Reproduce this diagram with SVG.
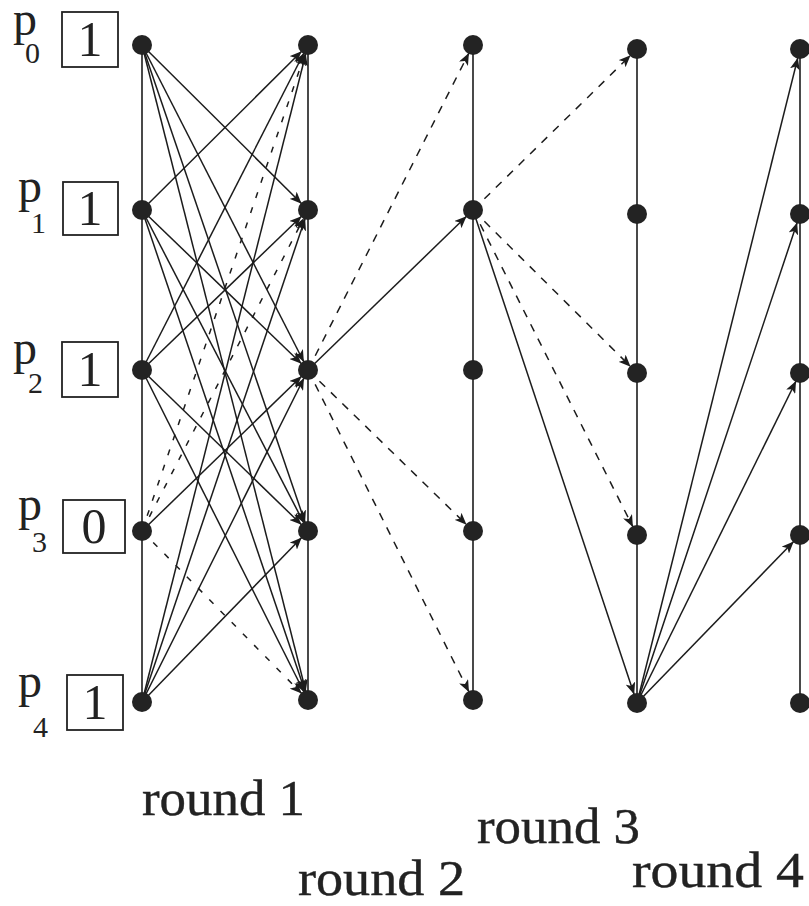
<svg xmlns="http://www.w3.org/2000/svg" width="809" height="906" viewBox="0 0 809 906">
  <style>
    .edge { stroke: #1c1c1c; stroke-width: 1.5; fill: none; marker-end: url(#arrow); }
    .dash { stroke-dasharray: 8 8; }
    .dash1 { stroke-dasharray: 6 10; }
    .life { stroke: #1c1c1c; stroke-width: 1.6; }
    .dot { fill: #232323; }
    .box { fill: none; stroke: #222; stroke-width: 1.8; }
    .pl { font-family: "Liberation Serif", "Times New Roman", serif; font-size: 48px; fill: #222; }
    .sub { font-size: 30px; }
    .val { font-family: "Liberation Serif", "Times New Roman", serif; font-size: 50px; fill: #222; text-anchor: middle; }
    .round { font-family: "Liberation Serif", "Times New Roman", serif; font-size: 50px; fill: #222; stroke: #222; stroke-width: 0.4; }
  </style>
  <defs>
    <!-- arrowhead whose tip stops at the rim of a radius-10 dot -->
    <marker id="arrow" markerUnits="userSpaceOnUse" viewBox="0 0 22 10" markerWidth="22" markerHeight="10" refX="21" refY="5" orient="auto">
      <path d="M0,0 L12,5 L0,10 L3,5 z" fill="#1c1c1c"/>
    </marker>
  </defs>
  <rect width="809" height="906" fill="#ffffff"/>

  <!-- process time lines, one per column -->
  <g id="lifelines">
    <line class="life" x1="142" y1="45" x2="142" y2="702"/>
    <line class="life" x1="308" y1="45" x2="308" y2="700"/>
    <line class="life" x1="473" y1="45" x2="473" y2="700"/>
    <line class="life" x1="637" y1="49" x2="637" y2="703"/>
    <line class="life" x1="800" y1="49" x2="800" y2="703"/>
  </g>

  <g id="connectors">
    <!-- round 1 -->
    <line class="edge" x1="142" y1="45" x2="308" y2="210"/>
    <line class="edge" x1="142" y1="45" x2="308" y2="370"/>
    <line class="edge" x1="142" y1="45" x2="308" y2="531"/>
    <line class="edge" x1="142" y1="45" x2="308" y2="700"/>
    <line class="edge" x1="142" y1="210" x2="308" y2="45"/>
    <line class="edge" x1="142" y1="210" x2="308" y2="370"/>
    <line class="edge" x1="142" y1="210" x2="308" y2="531"/>
    <line class="edge" x1="142" y1="210" x2="308" y2="700"/>
    <line class="edge" x1="142" y1="370" x2="308" y2="45"/>
    <line class="edge" x1="142" y1="370" x2="308" y2="210"/>
    <line class="edge" x1="142" y1="370" x2="308" y2="531"/>
    <line class="edge" x1="142" y1="370" x2="308" y2="700"/>
    <line class="edge" x1="142" y1="531" x2="308" y2="370"/>
    <line class="edge dash1" x1="142" y1="531" x2="308" y2="45"/>
    <line class="edge dash1" x1="142" y1="531" x2="308" y2="210"/>
    <line class="edge dash1" x1="142" y1="531" x2="308" y2="700"/>
    <line class="edge" x1="142" y1="702" x2="308" y2="45"/>
    <line class="edge" x1="142" y1="702" x2="308" y2="210"/>
    <line class="edge" x1="142" y1="702" x2="308" y2="370"/>
    <line class="edge" x1="142" y1="702" x2="308" y2="531"/>
    <!-- round 2 -->
    <line class="edge" x1="308" y1="370" x2="473" y2="210"/>
    <line class="edge dash" x1="308" y1="370" x2="473" y2="45"/>
    <line class="edge dash" x1="308" y1="370" x2="473" y2="531"/>
    <line class="edge dash" x1="308" y1="370" x2="473" y2="700"/>
    <!-- round 3 -->
    <line class="edge" x1="473" y1="210" x2="637" y2="703"/>
    <line class="edge dash" x1="473" y1="210" x2="637" y2="49"/>
    <line class="edge dash" x1="473" y1="210" x2="637" y2="373"/>
    <line class="edge dash" x1="473" y1="210" x2="637" y2="535"/>
    <!-- round 4 -->
    <line class="edge" x1="637" y1="703" x2="800" y2="49"/>
    <line class="edge" x1="637" y1="703" x2="800" y2="214"/>
    <line class="edge" x1="637" y1="703" x2="800" y2="373"/>
    <line class="edge" x1="637" y1="703" x2="800" y2="535"/>
  </g>

  <!-- process labels with their input values -->
  <g id="p0">
    <text class="pl" x="13" y="35">p<tspan class="sub" x="25" y="63">0</tspan></text>
    <rect class="box" x="62" y="12" width="56" height="55"/>
    <text class="val" x="90" y="56">1</text>
  </g>
  <g id="p1">
    <text class="pl" x="18" y="202">p<tspan class="sub" x="31" y="233">1</tspan></text>
    <rect class="box" x="63" y="182" width="55" height="53"/>
    <text class="val" x="90" y="225">1</text>
  </g>
  <g id="p2">
    <text class="pl" x="13" y="364">p<tspan class="sub" x="28" y="393">2</tspan></text>
    <rect class="box" x="62" y="342" width="56" height="55"/>
    <text class="val" x="90" y="386">1</text>
  </g>
  <g id="p3">
    <text class="pl" x="18" y="520">p<tspan class="sub" x="32" y="552">3</tspan></text>
    <rect class="box" x="63" y="500" width="62" height="53"/>
    <text class="val" x="94" y="543">0</text>
  </g>
  <g id="p4">
    <text class="pl" x="18" y="697">p<tspan class="sub" x="33" y="737">4</tspan></text>
    <rect class="box" x="67" y="675" width="56" height="55"/>
    <text class="val" x="95" y="719">1</text>
  </g>

  <!-- state dots: column c, process r -->
  <g id="c0">
    <circle class="dot" cx="142" cy="45" r="10"/>
    <circle class="dot" cx="142" cy="210" r="10"/>
    <circle class="dot" cx="142" cy="370" r="10"/>
    <circle class="dot" cx="142" cy="531" r="10"/>
    <circle class="dot" cx="142" cy="702" r="10"/>
  </g>
  <g id="c1">
    <circle class="dot" cx="308" cy="45" r="10"/>
    <circle class="dot" cx="308" cy="210" r="10"/>
    <circle class="dot" cx="308" cy="370" r="10"/>
    <circle class="dot" cx="308" cy="531" r="10"/>
    <circle class="dot" cx="308" cy="700" r="10"/>
  </g>
  <g id="c2">
    <circle class="dot" cx="473" cy="45" r="10"/>
    <circle class="dot" cx="473" cy="210" r="10"/>
    <circle class="dot" cx="473" cy="370" r="10"/>
    <circle class="dot" cx="473" cy="531" r="10"/>
    <circle class="dot" cx="473" cy="700" r="10"/>
  </g>
  <g id="c3">
    <circle class="dot" cx="637" cy="49" r="10"/>
    <circle class="dot" cx="637" cy="214" r="10"/>
    <circle class="dot" cx="637" cy="373" r="10"/>
    <circle class="dot" cx="637" cy="535" r="10"/>
    <circle class="dot" cx="637" cy="703" r="10"/>
  </g>
  <g id="c4">
    <circle class="dot" cx="800" cy="49" r="10"/>
    <circle class="dot" cx="800" cy="214" r="10"/>
    <circle class="dot" cx="800" cy="373" r="10"/>
    <circle class="dot" cx="800" cy="535" r="10"/>
    <circle class="dot" cx="800" cy="703" r="10"/>
  </g>

  <g id="round-labels">
    <text class="round" x="142" y="815" textLength="163" lengthAdjust="spacingAndGlyphs">round 1</text>
    <text class="round" x="477" y="843" textLength="163" lengthAdjust="spacingAndGlyphs">round 3</text>
    <text class="round" x="298" y="895" textLength="167" lengthAdjust="spacingAndGlyphs">round 2</text>
    <text class="round" x="632" y="887" textLength="172" lengthAdjust="spacingAndGlyphs">round 4</text>
  </g>
</svg>
